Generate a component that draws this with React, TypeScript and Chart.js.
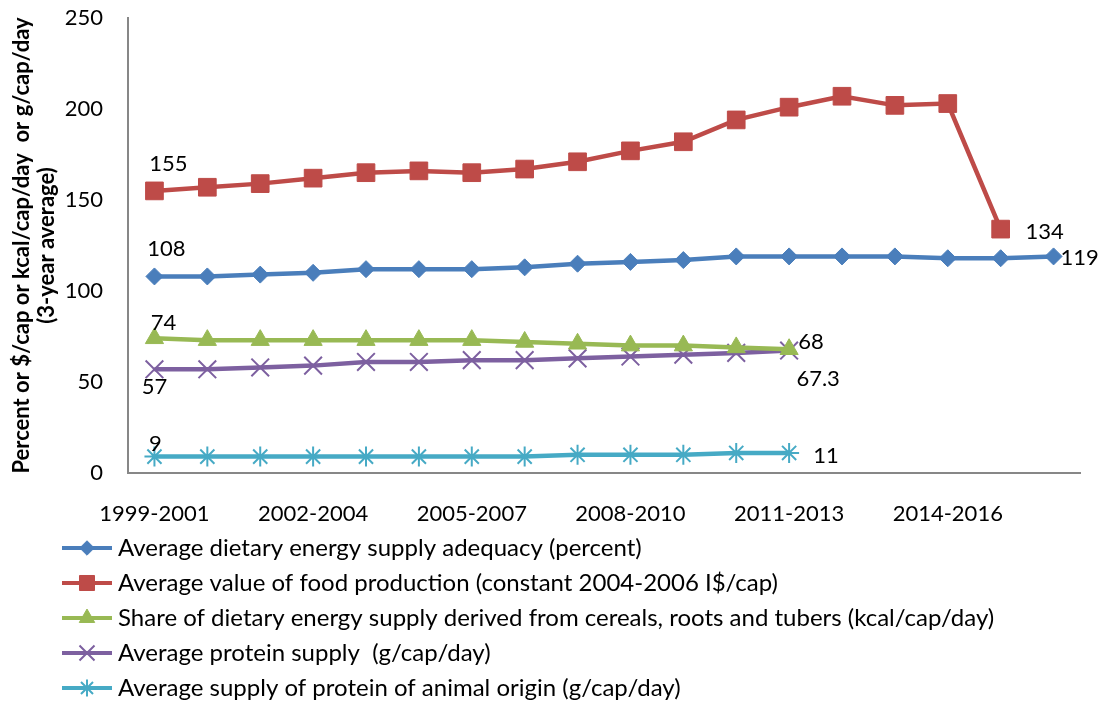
import React, { useEffect, useRef } from "react";
import { Chart, registerables } from "chart.js";
import { drawPoint } from "chart.js/helpers";

Chart.register(...registerables);

const categories = [
  "1999-2001", "2000-2002", "2001-2003", "2002-2004", "2003-2005", "2004-2006",
  "2005-2007", "2006-2008", "2007-2009", "2008-2010", "2009-2011", "2010-2012",
  "2011-2013", "2012-2014", "2013-2015", "2014-2016", "2015-2017", "2016-2018",
];

const energyAdequacy = [108, 108, 109, 110, 112, 112, 112, 113, 115, 116, 117, 119, 119, 119, 119, 118, 118, 119];
const foodProductionValue = [155, 157, 159, 162, 165, 166, 165, 167, 171, 177, 182, 194, 201, 207, 202, 203, 134, null];
const cerealShare = [74, 73, 73, 73, 73, 73, 73, 72, 71, 70, 70, 69, 68, null, null, null, null, null];
const proteinSupply = [57, 57, 58, 59, 61, 61, 62, 62, 63, 64, 65, 66, 67.3, null, null, null, null, null];
const animalProtein = [9, 9, 9, 9, 9, 9, 9, 9, 10, 10, 10, 11, 11, null, null, null, null, null];

const seriesNames = [
  "Average dietary energy supply adequacy (percent)",
  "Average value of food production (constant 2004-2006 I$/cap)",
  "Share of dietary energy supply derived from cereals, roots and tubers (kcal/cap/day)",
  "Average protein supply  (g/cap/day)",
  "Average supply of protein of animal origin (g/cap/day)",
];

const yTicks = [0, 50, 100, 150, 200, 250];
const yTitle = ["Percent or $/cap or kcal/cap/day  or g/cap/day", "(3-year average)"];

// value labels: [datasetIndex, pointIndex, text]
const valueLabels: [number, number, string][] = [
  [1, 0, "155"],
  [0, 0, "108"],
  [2, 0, "74"],
  [3, 0, "57"],
  [4, 0, "9"],
  [1, 16, "134"],
  [0, 17, "119"],
  [2, 12, "68"],
  [3, 12, "67.3"],
  [4, 12, "11"],
];
// label placement offsets (same order as valueLabels)
const labelOffsets: [number, number][] = [
  [14, -27], [12, -28], [9, -15], [0, 18], [1, -13],
  [44, 3], [26, 1], [22, -7], [29, 28], [37, 3],
];

const FONT = "Lato, 'Open Sans', sans-serif";

export default function App() {
  const ref = useRef<HTMLCanvasElement>(null);
  useEffect(() => {
    if (!ref.current) return;
    const colors = ["#4A7EBB", "#BE4B48", "#98B954", "#7D60A0", "#46AAC5"];
    const styles = ["rectRot", "rect", "triangle", "crossRot", "star"];
    const radii = [8.5, 12.5, 10.5, 12.5, 10];
    const seriesData = [energyAdequacy, foodProductionValue, cerealShare, proteinSupply, animalProtein];

    const labelPlugin = {
      id: "valueLabels",
      afterDatasetsDraw(chart: any) {
        const ctx = chart.ctx;
        ctx.save();
        ctx.font = `22px ${FONT}`;
        ctx.fillStyle = "#000";
        ctx.textAlign = "center";
        ctx.textBaseline = "middle";
        valueLabels.forEach(([ds, idx, text], i) => {
          const p = chart.getDatasetMeta(ds).data[idx];
          const [dx, dy] = labelOffsets[i];
          ctx.fillText(text, p.x + dx, p.y + dy);
        });
        ctx.restore();
      },
    };

    const legendPlugin = {
      id: "customLegend",
      afterDraw(chart: any) {
        const ctx = chart.ctx;
        ctx.save();
        chart.data.datasets.forEach((ds: any, i: number) => {
          const y = 548 + i * 35;
          ctx.strokeStyle = ds.borderColor;
          ctx.lineWidth = 4;
          ctx.beginPath();
          ctx.moveTo(62, y);
          ctx.lineTo(112, y);
          ctx.stroke();
          ctx.fillStyle = ds.borderColor;
          ctx.strokeStyle = ds.borderColor;
          ctx.lineWidth = ds.pointBorderWidth;
          drawPoint(ctx, { pointStyle: ds.pointStyle, radius: ds.pointRadius * 0.85, borderWidth: ds.pointBorderWidth, rotation: 0 }, 87, y);
          ctx.fillStyle = "#000";
          ctx.font = `24px ${FONT}`;
          ctx.textAlign = "left";
          ctx.textBaseline = "middle";
          ctx.fillText(ds.label, 118, y);
        });
        ctx.restore();
      },
    };

    const chart = new Chart(ref.current, {
      type: "line",
      data: {
        labels: categories,
        datasets: seriesData.map((d, i) => ({
          label: seriesNames[i],
          data: d,
          borderColor: colors[i],
          backgroundColor: colors[i],
          borderWidth: 4.5,
          pointStyle: styles[i],
          pointRadius: radii[i],
          pointBorderWidth: i >= 3 ? 2 : 1,
          pointBackgroundColor: colors[i],
          pointBorderColor: colors[i],
          tension: 0,
          spanGaps: false,
        })),
      },
      options: {
        responsive: false,
        animation: false,
        layout: { padding: { top: 18, right: 22, bottom: 171, left: 0 } },
        plugins: {
          legend: { display: false },
          tooltip: { enabled: false },
        },
        scales: {
          x: {
            offset: true,
            grid: { display: true, drawOnChartArea: false, drawTicks: true, tickLength: 25, tickColor: "rgba(0,0,0,0)", color: "rgba(0,0,0,0)" },
            border: { display: true, color: "#878787", width: 2 },
            ticks: {
              autoSkip: false,
              maxRotation: 0,
              padding: 3,
              color: "#000",
              font: { family: FONT, size: 22 },
              callback: (_v: any, i: number) => (i % 3 === 0 ? categories[i] : ""),
            },
            afterFit: (s: any) => { s.height = 60; },
          },
          y: {
            min: 0,
            max: 250,
            grid: { display: true, drawOnChartArea: false, drawTicks: true, tickLength: 22, tickColor: "rgba(0,0,0,0)", color: "rgba(0,0,0,0)" },
            border: { display: true, color: "#878787", width: 2 },
            afterBuildTicks: (s: any) => { s.ticks = yTicks.map((v) => ({ value: v })); },
            ticks: {
              padding: 3,
              color: "#000",
              font: { family: FONT, size: 22 },
            },
            title: {
              display: true,
              text: yTitle,
              color: "#000",
              font: { family: FONT, size: 22, weight: "bold", lineHeight: 1.14 },
              padding: { top: 9, bottom: 0 },
            },
            afterFit: (s: any) => { s.width = 128; },
          },
        },
      },
      plugins: [labelPlugin, legendPlugin],
    });
    return () => chart.destroy();
  }, []);

  return (
    <div style={{ position: "absolute", left: 0, top: 0, width: 1102, height: 704, background: "#fff" }}>
      <canvas ref={ref} width={1102} height={704} />
    </div>
  );
}
